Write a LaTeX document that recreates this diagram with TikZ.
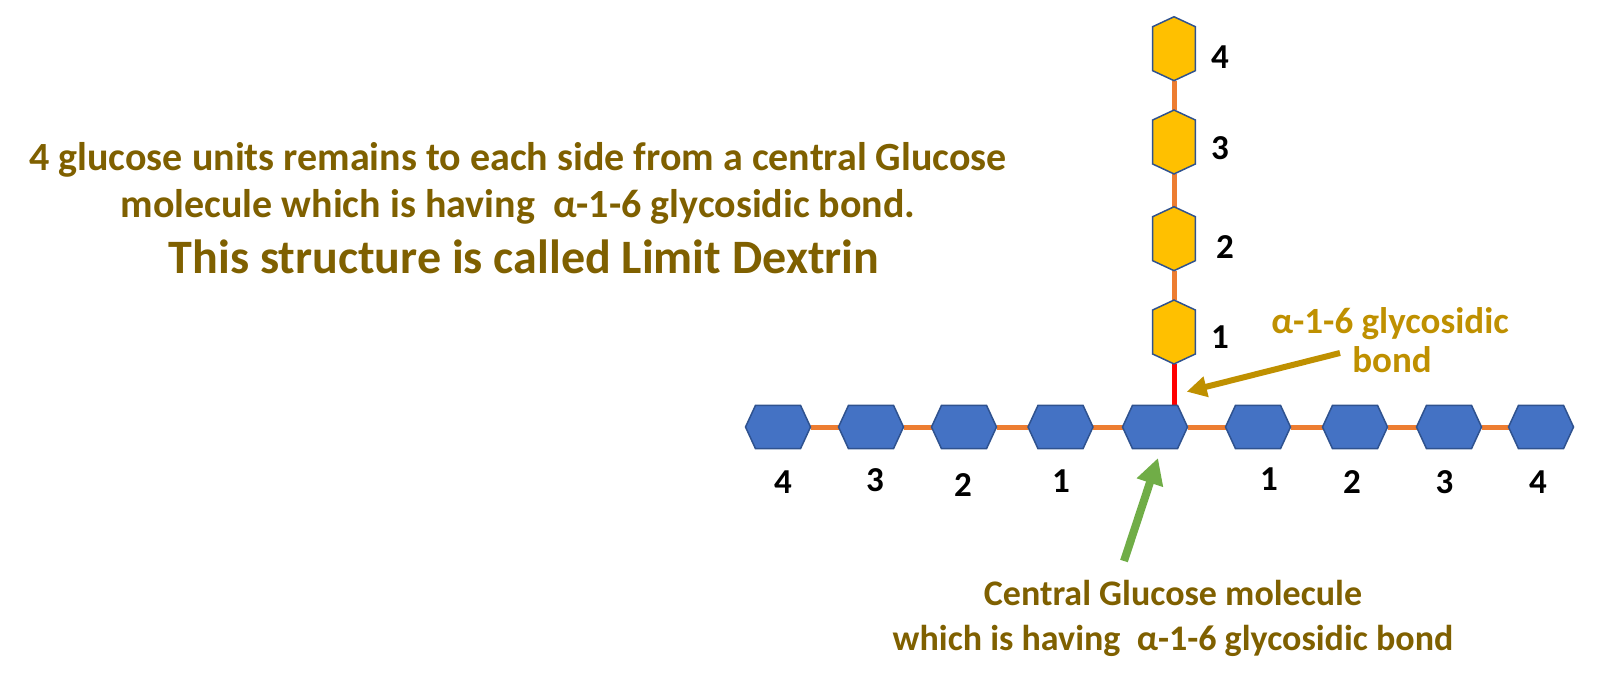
\documentclass[tikz,border=0pt]{standalone}
\usepackage{fontspec}
\setmainfont{Carlito}
\usetikzlibrary{arrows.meta}

\definecolor{blueunit}{HTML}{4472C4}
\definecolor{yellowunit}{HTML}{FFC000}
\definecolor{unitedge}{HTML}{2F528F}
\definecolor{bondorange}{HTML}{ED7D31}
\definecolor{textbrown}{HTML}{7F6000}
\definecolor{textgold}{HTML}{BF9000}
\definecolor{arrowgreen}{HTML}{70AD47}

\tikzset{
  bluebox/.style={inner sep=0pt, minimum width=64.6pt, minimum height=43pt},
  yellowbox/.style={inner sep=0pt, minimum width=42.5pt, minimum height=63.5pt},
  unitline/.style={draw=unitedge, line width=1.5pt},
  chain/.style={draw=bondorange, line width=5pt},
  num/.style={font=\fontsize{35}{40}\selectfont\bfseries, inner sep=0pt},
  info/.style={font=\fontsize{40}{47}\selectfont\bfseries, text=textbrown, inner sep=0pt, anchor=base},
  note/.style={font=\fontsize{36}{44}\selectfont\bfseries, text=textbrown, inner sep=0pt, anchor=base},
  headline/.style={font=\fontsize{48}{56}\selectfont\bfseries, text=textbrown, inner sep=0pt, anchor=base},
  bondlabel/.style={font=\fontsize{37}{44}\selectfont\bfseries, text=textgold, inner sep=0pt, anchor=base}
}

\begin{document}
\begin{tikzpicture}[x=1pt, y=-1pt]
  \useasboundingbox (0,0) rectangle (1605,677);

  % main chain and branch
  \begin{scope}[every node/.style={bluebox}]
    \node (L4) at (778,427) {};
    \node (L3) at (871,427) {};
    \node (L2) at (964,427) {};
    \node (L1) at (1060.5,427) {};
    \node (C) at (1155,427) {};
    \node (R1) at (1258,427) {};
    \node (R2) at (1355,427) {};
    \node (R3) at (1449,427) {};
    \node (R4) at (1541,427) {};
  \end{scope}
  \begin{scope}[every node/.style={yellowbox}]
    \node (Y1) at (1174,332) {};
    \node (Y2) at (1174,238.7) {};
    \node (Y3) at (1174,142) {};
    \node (Y4) at (1174,48.7) {};
  \end{scope}

  \foreach \a/\b in {L4/L3,L3/L2,L2/L1,L1/C,C/R1,R1/R2,R2/R3,R3/R4}
    \draw[chain] (\a.east) -- (\b.west);
  \foreach \a/\b in {Y1/Y2,Y2/Y3,Y3/Y4}
    \draw[chain] (\a.north) -- (\b.south);
  \draw[red, line width=5pt] (Y1.south) -- (Y1.south |- C.north);

  \foreach \n in {L4,L3,L2,L1,C,R1,R2,R3,R4}
    \draw[unitline, fill=blueunit] (\n.west) -- ([xshift=10pt]\n.north west)
      -- ([xshift=-10pt]\n.north east) -- (\n.east)
      -- ([xshift=-10pt]\n.south east) -- ([xshift=10pt]\n.south west) -- cycle;
  \foreach \n in {Y1,Y2,Y3,Y4}
    \draw[unitline, fill=yellowunit] (\n.north) -- ([yshift=-10pt]\n.north east)
      -- ([yshift=10pt]\n.south east) -- (\n.south)
      -- ([yshift=10pt]\n.south west) -- ([yshift=-10pt]\n.north west) -- cycle;

  % numbers
  \node[num] (nL4) at (783,482.5) {4};
  \node[num] (nL3) at (875,480) {3};
  \node[num] (nL2) at (963,485) {2};
  \node[num] (nL1) at (1061,481) {1};
  \node[num] (nR1) at (1269,479) {1};
  \node[num] (nR2) at (1352,482) {2};
  \node[num] (nR3) at (1444.5,482) {3};
  \node[num] (nR4) at (1538,482) {4};
  \node[num] (nY1) at (1220,337) {1};
  \node[num] (nY2) at (1225,247.5) {2};
  \node[num] (nY3) at (1220,148) {3};
  \node[num] (nY4) at (1220,57.5) {4};

  % texts
  \node[info] (info1) at (518,170) {4 glucose units remains to each side from a central Glucose};
  \node[info] (info2) at (518,217) {molecule which is having~ α-1-6 glycosidic bond.};
  \node[headline] (title) at (524,273) {This structure is called Limit Dextrin};
  \node[bondlabel] (bond1) at (1390,333) {α-1-6 glycosidic};
  \node[bondlabel] (bond2) at (1392,372) {bond};
  \node[note] (central1) at (1173,605) {Central Glucose molecule};
  \node[note] (central2) at (1173,650) {which is having~ α-1-6 glycosidic bond};

  % arrows
  \coordinate (goldtail) at (1340,353);
  \coordinate (goldtip) at (1186.7,391.7);
  \draw[-{Triangle[length=20pt,width=20pt]}, line width=6pt, textgold] (goldtail) -- (goldtip);
  \coordinate (greentail) at (1124,561);
  \coordinate (greentip) at (1158,458);
  \draw[-{Triangle[length=26pt,width=26pt]}, line width=8pt, arrowgreen] (greentail) -- (greentip);
\end{tikzpicture}
\end{document}
